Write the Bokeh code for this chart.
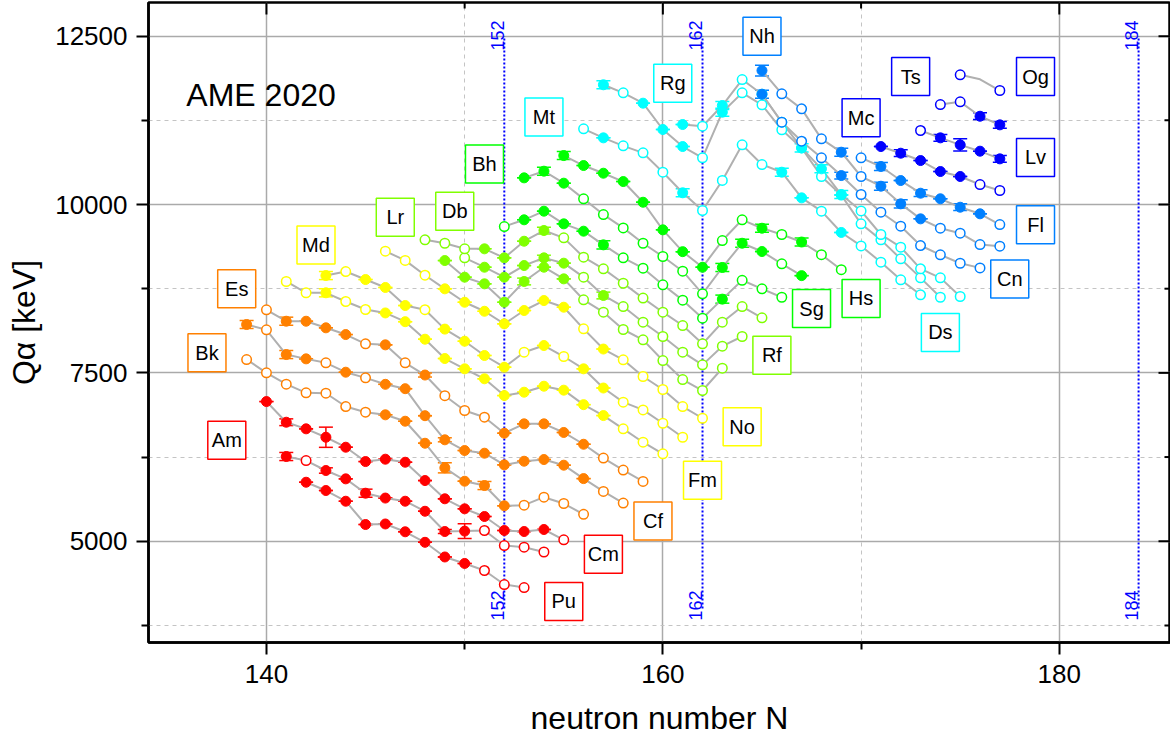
import math
from bokeh.plotting import figure
from bokeh.models import ColumnDataSource, Whisker, TeeHead, Label, FixedTicker, Range1d
from bokeh.embed import file_html
from bokeh.resources import INLINE
from bokeh.core.properties import value

FONT = "Liberation Sans"

# ---------------- data (N, Q_alpha keV, marker kind F=filled O=open -=none, errors) -------------
PU_N = [142, 143, 144, 145, 146, 147, 148, 149, 150, 151, 152, 153]
PU_Q = [5876, 5753, 5594, 5248, 5256, 5140, 4984, 4766, 4670, 4565, 4357, 4312]
PU_M = "FFFFFFFFFOOO"
PU_ERR = {}

AM_N = [141, 142, 143, 144, 145, 146, 147, 148, 149, 150, 151, 152, 153, 154]
AM_Q = [6258, 6198, 6050, 5926, 5713, 5641, 5594, 5445, 5144, 5150, 5159, 4936, 4911, 4840]
AM_M = "FOFFFFFFFFOOOO"
AM_ERR = {141: 60, 143: 40, 145: 60, 149: 30, 150: 110}

CM_N = [140, 141, 142, 143, 144, 145, 146, 147, 148, 149, 150, 151, 152, 153, 154, 155]
CM_Q = [7074, 6767, 6669, 6544, 6396, 6183, 6218, 6173, 5901, 5630, 5481, 5367, 5159, 5144, 5174, 5021]
CM_M = "FFFFFFFFFFFFFFFO"
CM_ERR = {141: 50, 143: 150}

BK_N = [139, 140, 141, 142, 143, 144, 145, 146, 147, 148, 149, 150, 151, 152, 153, 154, 155, 156]
BK_Q = [7698, 7501, 7332, 7204, 7198, 7000, 6916, 6877, 6782, 6455, 6090, 5891, 5827, 5526, 5535, 5654, 5560, 5400]
BK_M = "OOOOOOOFFFFFFFOOOO"
BK_ERR = {149: 75, 151: 60}

CF_N = [139, 140, 141, 142, 143, 144, 145, 146, 147, 148, 149, 150, 151, 152, 153, 154, 155, 156, 157, 158]
CF_Q = [8218, 8139, 7772, 7708, 7649, 7510, 7426, 7330, 7265, 6864, 6506, 6347, 6307, 6134, 6188, 6213, 6129, 5930, 5740, 5567]
CF_M = "FOFFOFOFFFFFFFFFFFOO"
CF_ERR = {139: 60, 141: 60, 149: 30}

ES_N = [140, 141, 142, 143, 144, 145, 146, 147, 148, 149, 150, 151, 152, 153, 154, 155, 156, 157, 158, 159]
ES_Q = [8436, 8267, 8267, 8169, 8069, 7931, 7916, 7649, 7468, 7161, 6941, 6842, 6604, 6743, 6743, 6615, 6440, 6235, 6057, 5888]
ES_M = "OFFFFOFOFOOOFFFFFOOO"
ES_ERR = {141: 60, 148: 30}

FM_N = [141, 142, 143, 144, 145, 146, 147, 148, 149, 150, 151, 152, 153, 154, 155, 156, 157, 158, 159, 160]
FM_Q = [8857, 8689, 8689, 8560, 8441, 8390, 8260, 8000, 7713, 7560, 7412, 7163, 7213, 7302, 7243, 7028, 6866, 6669, 6470, 6298]
FM_M = "OOFOOFFFFFFFFFFFFOOO"
FM_ERR = {143: 60}

MD_N = [143, 144, 145, 146, 147, 148, 149, 150, 151, 152, 153, 154, 155, 156, 157, 158, 159, 160, 161]
MD_Q = [8945, 9005, 8886, 8768, 8500, 8438, 8150, 7970, 7758, 7584, 7807, 7906, 7743, 7560, 7275, 7065, 6950, 6752, 6544]
MD_M = "FOFFFOFFFFOFOFFOOOO"
MD_ERR = {143: 60}

NO_N = [146, 147, 148, 149, 150, 151, 152, 153, 154, 155, 156, 157, 158, 159, 160, 161, 162]
NO_Q = [9307, 9170, 8950, 8748, 8549, 8415, 8228, 8426, 8574, 8475, 8154, 7854, 7694, 7446, 7253, 7000, 6826]
NO_M = "OOOFFFFFFFOFOOOOO"
NO_ERR = {}

LR_N = [149, 150, 151, 152, 153, 154, 155, 156, 157, 158, 159, 160, 161, 162, 163]
LR_Q = [9168, 8921, 8822, 8549, 8857, 9069, 8896, 8585, 8401, 8144, 7990, 7683, 7401, 7238, 7569]
LR_M = "FFFFFFFOOOOOOOO"
LR_ERR = {153: 50}

RF_N = [150, 151, 152, 153, 154, 155, 156, 157, 158, 159, 160, 161, 162, 163, 164]
RF_Q = [9208, 9069, 8921, 9094, 9208, 9129, 8921, 8649, 8485, 8252, 8040, 7807, 7619, 7896, 8040]
RF_M = "OFFFFFOFOOOOOOO"
RF_ERR = {154: 40, 157: 50}

DB_N = [148, 149, 150, 151, 152, 153, 154, 155, 156, 157, 158, 159, 160, 161, 162, 163, 164, 165]
DB_Q = [9476, 9425, 9342, 9342, 9208, 9455, 9614, 9505, 9218, 9045, 8831, 8610, 8401, 8203, 7931, 8252, 8485, 8317]
DB_M = "OOOFFFFOOOOOOOOOOO"
DB_ERR = {154: 50}

SG_N = [152, 153, 154, 155, 156, 157, 158, 159, 160, 161, 162, 163, 164, 165, 166]
SG_Q = [9673, 9773, 9901, 9713, 9604, 9401, 9208, 9054, 8808, 8580, 8312, 8595, 8875, 8748, 8623]
SG_M = "OFFFFFOOOOOFOOO"
SG_ERR = {157: 60, 163: 60}

BH_N = [153, 154, 155, 156, 157, 158, 159, 160, 161, 162, 163, 164, 165, 166, 167]
BH_Q = [10396, 10495, 10317, 10084, 9851, 9653, 9425, 9228, 9010, 8674, 9065, 9425, 9302, 9120, 8944]
BH_M = "FFFOOOOOOOFFFOF"
BH_ERR = {154: 60, 163: 60, 164: 60}

HS_N = [155, 156, 157, 158, 159, 160, 161, 162, 163, 164, 165, 166, 167, 168, 169]
HS_Q = [10727, 10579, 10465, 10341, 10034, 9624, 9300, 9069, 9465, 9773, 9648, 9555, 9443, 9255, 9032]
HS_M = "FFFFFFFFOOFOFOO"
HS_ERR = {155: 60, 165: 60, 167: 60}

MT_N = [156, 157, 158, 159, 160, 161, 162, 163, 164, 165, 166, 167, 168, 169, 170, 171, 172, 173]
MT_Q = [11124, 10990, 10871, 10767, 10480, 10174, 9911, 10357, 10886, 10594, 10480, 10099, 9901, 9585, 9385, 9143, 8882, 8659]
MT_M = "OFOOOFOOOOFFOFOOOO"
MT_ERR = {161: 60, 166: 60}

DS_N = [157, 158, 159, 160, 161, 162, 163, 164, 165, 166, 167, 168, 169, 170, 171, 172, 173, 174]
DS_Q = [11778, 11659, 11505, 11114, 10861, 10693, 11371, 11658, 11480, 11109, 10841, 10416, 10140, 9713, 9475, 9193, 8911, 8623]
DS_M = "FOFFFOFOOOOOFOOOOO"
DS_ERR = {157: 60, 163: 60}

RG_N = [161, 162, 163, 164, 165, 166, 167, 168, 169, 170, 171, 172, 173, 174, 175]
RG_Q = [11188, 11163, 11470, 11856, 11638, 11222, 10841, 10530, 10149, 9905, 9555, 9366, 9045, 8911, 8634]
RG_M = "FOFOOOFFFOOOOOO"
RG_ERR = {163: 60, 167: 60, 168: 60, 169: 60}

CN_N = [165, 166, 167, 168, 169, 170, 171, 172, 173, 174, 175, 176]
CN_Q = [11638, 11222, 10940, 10693, 10430, 10149, 9886, 9678, 9391, 9253, 9128, 9059]
CN_M = "FOOOFOOOOOOO"
CN_ERR = {165: 60, 169: 50}

NH_N = [165, 166, 167, 168, 169, 170, 171, 172, 173, 174, 175, 176, 177]
NH_Q = [11990, 11644, 11421, 10975, 10777, 10416, 10272, 10010, 9787, 9648, 9574, 9406, 9381]
NH_M = "FOOOFOFFFOOOO"
NH_ERR = {165: 80, 169: 60, 171: 60, 172: 60}

FL_N = [170, 171, 172, 173, 174, 175, 176, 177]
FL_Q = [10693, 10565, 10356, 10168, 10085, 9960, 9862, 9703]
FL_M = "OFFFFFFO"
FL_ERR = {171: 60, 173: 50, 175: 50}

MC_N = [171, 172, 173, 174, 175, 176, 177]
MC_Q = [10861, 10762, 10653, 10490, 10416, 10297, 10208]
MC_M = "FFFFFOO"
MC_ERR = {172: 50}

LV_N = [173, 174, 175, 176, 177]
LV_Q = [11099, 10990, 10886, 10792, 10678]
LV_M = "OFFFF"
LV_ERR = {174: 50, 175: 90, 177: 50}

TS_N = [174, 175, 176, 177]
TS_Q = [11485, 11525, 11311, 11183]
TS_M = "OOFF"
TS_ERR = {176: 50, 177: 50}

OG_N = [175, 176, 177]
OG_Q = [11926, 11860, 11693]
OG_M = "O-O"
OG_ERR = {}

# element label boxes (position in data coordinates)
LABELS = ["Am", "Bk", "Es", "Md", "Lr", "Db", "Bh", "Mt", "Rg", "Nh", "Mc", "Ts", "Og", "Lv", "Fl",
          "Cn", "Ds", "Hs", "Sg", "Rf", "No", "Fm", "Cf", "Cm", "Pu"]
LABEL_N = [138.0, 137.0, 138.5, 142.5, 146.5, 149.5, 151.0, 154.0, 160.5, 165.0, 170.0, 172.5, 178.8, 178.8, 178.8,
           177.5, 174.0, 170.0, 167.5, 165.5, 164.0, 162.0, 159.5, 157.0, 155.0]
LABEL_Q = [6500, 7800, 8750, 9400, 9810, 9900, 10600, 11300, 11800, 12500, 11290, 11900, 11900, 10700, 9700,
           8895, 8100, 8605, 8455, 7760, 6700, 5905, 5300, 4805, 4105]

MAGIC = [152, 162, 184]

RED, ORANGE, YELLOW, YGREEN = "#ff0000", "#ff8000", "#ffff00", "#80ff00"
GREEN, CYAN, LBLUE, BLUE = "#00ff00", "#00ffff", "#0080ff", "#0000ff"

SERIES = [
    ("Pu", PU_N, PU_Q, PU_M, PU_ERR, RED), ("Am", AM_N, AM_Q, AM_M, AM_ERR, RED),
    ("Cm", CM_N, CM_Q, CM_M, CM_ERR, RED), ("Bk", BK_N, BK_Q, BK_M, BK_ERR, ORANGE),
    ("Cf", CF_N, CF_Q, CF_M, CF_ERR, ORANGE), ("Es", ES_N, ES_Q, ES_M, ES_ERR, ORANGE),
    ("Fm", FM_N, FM_Q, FM_M, FM_ERR, YELLOW), ("Md", MD_N, MD_Q, MD_M, MD_ERR, YELLOW),
    ("No", NO_N, NO_Q, NO_M, NO_ERR, YELLOW), ("Lr", LR_N, LR_Q, LR_M, LR_ERR, YGREEN),
    ("Rf", RF_N, RF_Q, RF_M, RF_ERR, YGREEN), ("Db", DB_N, DB_Q, DB_M, DB_ERR, YGREEN),
    ("Sg", SG_N, SG_Q, SG_M, SG_ERR, GREEN), ("Bh", BH_N, BH_Q, BH_M, BH_ERR, GREEN),
    ("Hs", HS_N, HS_Q, HS_M, HS_ERR, GREEN), ("Mt", MT_N, MT_Q, MT_M, MT_ERR, CYAN),
    ("Ds", DS_N, DS_Q, DS_M, DS_ERR, CYAN), ("Rg", RG_N, RG_Q, RG_M, RG_ERR, CYAN),
    ("Cn", CN_N, CN_Q, CN_M, CN_ERR, LBLUE), ("Nh", NH_N, NH_Q, NH_M, NH_ERR, LBLUE),
    ("Fl", FL_N, FL_Q, FL_M, FL_ERR, LBLUE), ("Mc", MC_N, MC_Q, MC_M, MC_ERR, BLUE),
    ("Lv", LV_N, LV_Q, LV_M, LV_ERR, BLUE), ("Ts", TS_N, TS_Q, TS_M, TS_ERR, BLUE),
    ("Og", OG_N, OG_Q, OG_M, OG_ERR, BLUE),
]
COLOR_OF = {s[0]: s[5] for s in SERIES}

X_MAJOR, X_MINOR = [140, 160, 180], [150, 170]
Y_MAJOR, Y_MINOR = [5000, 7500, 10000, 12500], [3750, 6250, 8750, 11250]

X0, X1 = 134.05, 185.61
Y0, Y1 = 3496, 13000
FRAME_W, FRAME_H = 1022, 640

# ---------------- figure ----------------
p = figure(frame_width=FRAME_W, frame_height=FRAME_H,
           x_range=Range1d(X0, X1), y_range=Range1d(Y0, Y1),
           output_backend="svg", toolbar_location=None,
           min_border_left=148, min_border_right=0, min_border_top=2, min_border_bottom=100)
p.outline_line_color = "black"
p.outline_line_width = 2.5
p.background_fill_color = "white"
p.border_fill_color = "white"

p.xaxis.ticker = FixedTicker(ticks=X_MAJOR, minor_ticks=X_MINOR)
p.yaxis.ticker = FixedTicker(ticks=Y_MAJOR, minor_ticks=Y_MINOR)
for ax in (p.xaxis[0], p.yaxis[0]):
    ax.axis_line_width = 2.5
    ax.axis_line_color = "black"
    ax.major_tick_out = 12
    ax.major_tick_in = 0
    ax.minor_tick_out = 7
    ax.minor_tick_in = 0
    ax.major_tick_line_width = 2
    ax.minor_tick_line_width = 2
    ax.major_label_text_font = FONT
    ax.major_label_text_font_size = "26px"
    ax.major_label_text_color = "black"
    ax.axis_label_text_font = FONT
    ax.axis_label_text_font_style = "normal"
    ax.axis_label_text_font_size = "32px"
    ax.axis_label_text_color = "black"
    ax.axis_label_text_line_height = 0.9
p.xaxis.major_label_standoff = 10
p.yaxis.major_label_standoff = 9
p.xaxis.axis_label = "neutron number N"
p.xaxis.axis_label_standoff = 14
p.yaxis.axis_label = "Qα [keV]"
p.yaxis.axis_label_standoff = 10

for g in (p.xgrid[0], p.ygrid[0]):
    g.grid_line_color = "#aaaaaa"
    g.grid_line_width = 1.5
    g.minor_grid_line_color = "#c4c4c4"
    g.minor_grid_line_width = 1
    g.minor_grid_line_dash = "4 4"

# mirrored inward ticks on the top and right frame edges (lengths in pixels -> data units)
px_x = (X1 - X0) / FRAME_W
px_y = (Y1 - Y0) / FRAME_H
tx = X_MAJOR + X_MINOR
tlen = [12] * len(X_MAJOR) + [6] * len(X_MINOR)
p.segment(x0=tx, y0=[Y1] * len(tx), x1=tx, y1=[Y1 - l * px_y for l in tlen], line_color="black", line_width=2)
ty = Y_MAJOR + Y_MINOR
tlen = [12] * len(Y_MAJOR) + [6] * len(Y_MINOR)
p.segment(x0=[X1] * len(ty), y0=ty, x1=[X1 - l * px_x for l in tlen], y1=ty, line_color="black", line_width=2)

# magic number lines
for m in MAGIC:
    p.segment(x0=[m], y0=[4000], x1=[m], y1=[12500], line_color="#0000ff", line_width=2, line_dash="2 2")
    for qy in (12287, 3822):
        p.add_layout(Label(x=m - 0.345, y=qy, text=str(m), angle=math.pi / 2, text_align="left",
                           text_baseline="alphabetic", text_font=FONT, text_font_size="18px",
                           text_color="#0000ff"))

# connecting lines
for name, ns, qs, ms, errs, col in SERIES:
    p.line(ns, qs, line_color="#b0b0b0", line_width=2)

# error bars + markers
for name, ns, qs, ms, errs, col in SERIES:
    fx = [n for n, k in zip(ns, ms) if k == "F"]
    fy = [q for q, k in zip(qs, ms) if k == "F"]
    ox = [n for n, k in zip(ns, ms) if k == "O"]
    oy = [q for q, k in zip(qs, ms) if k == "O"]
    if fx:
        up = [q + errs.get(n, 0) for n, q in zip(fx, fy)]
        lo = [q - errs.get(n, 0) for n, q in zip(fx, fy)]
        src = ColumnDataSource(dict(x=fx, up=up, lo=lo))
        w = Whisker(source=src, base="x", upper="up", lower="lo", dimension="height",
                    line_color=col, line_width=1.5,
                    upper_head=TeeHead(size=14, line_color=col, line_width=1.5),
                    lower_head=TeeHead(size=14, line_color=col, line_width=1.5))
        p.add_layout(w)
        p.scatter(fx, fy, size=10, marker="circle", fill_color=col, line_color=col, line_width=1)
    if ox:
        p.scatter(ox, oy, size=9.5, marker="circle", fill_color="white", line_color=col, line_width=1.5)

# element label boxes
box_cols = [COLOR_OF[l] for l in LABELS]
p.rect(x=LABEL_N, y=LABEL_Q, width=38, height=38, width_units="screen", height_units="screen",
       fill_color="white", line_color=box_cols, line_width=1.5)
p.text(x=LABEL_N, y=LABEL_Q, text=LABELS, text_align="center", text_baseline="middle",
       text_font=value(FONT), text_font_size="20px", text_color="black")

# title text
p.add_layout(Label(x=135.96, y=11619, text="AME 2020", text_font=FONT, text_font_size="32px",
                   text_align="left", text_baseline="alphabetic", text_color="black"))

open("out.html", "w").write(file_html(p, INLINE))
